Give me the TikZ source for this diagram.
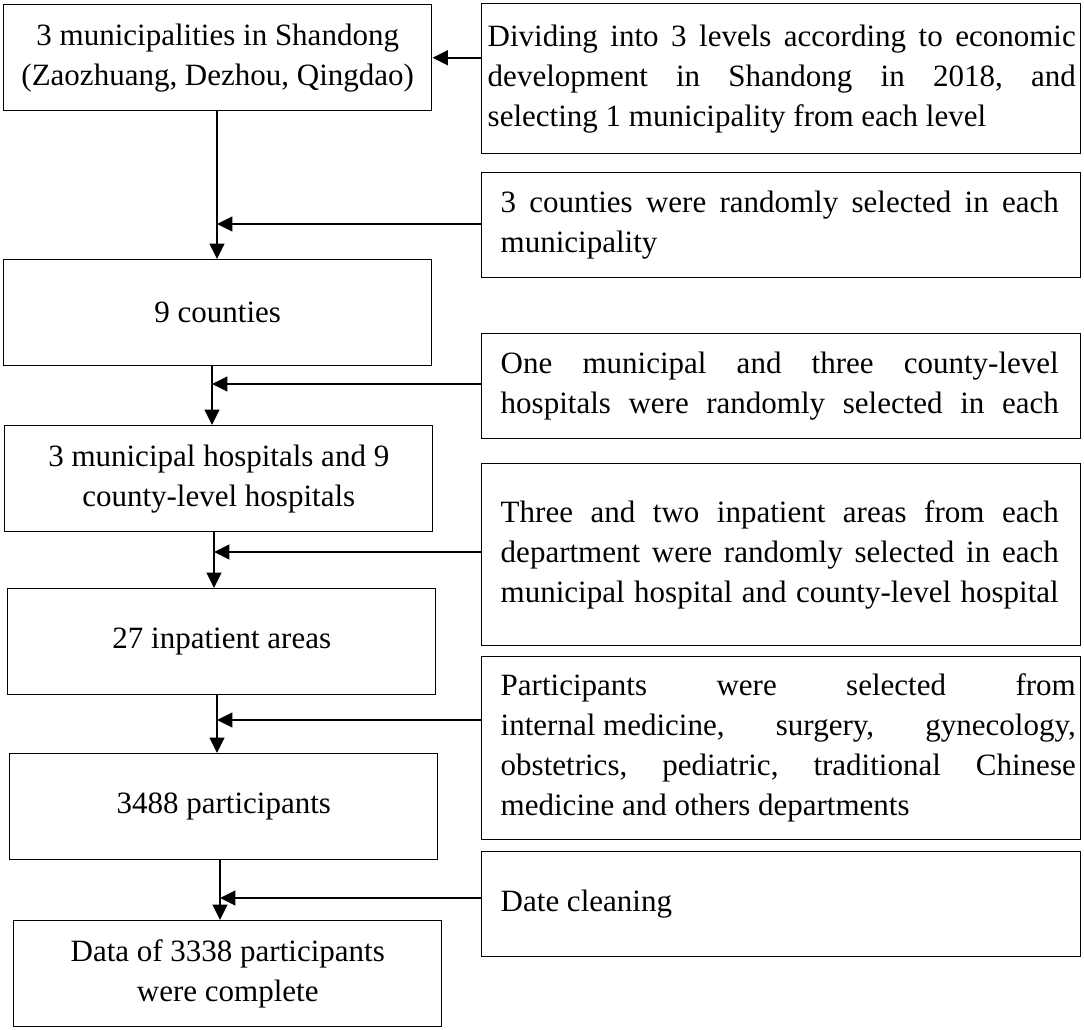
\documentclass[tikz,border=0pt]{standalone}
\usepackage{fontspec}
\setmainfont{Liberation Serif}
\usetikzlibrary{arrows.meta}
\frenchspacing
\newcommand{\jl}[1]{\makebox[\linewidth][s]{#1}}
\newcommand{\rt}[3]{\makebox[449.25pt][l]{\hspace*{#1}\parbox[c]{#2}{#3}}}
\begin{document}
\begin{tikzpicture}[x=0.75pt,y=-0.75pt,
  every node/.style={font=\fontsize{23.25pt}{30pt}\selectfont},
  lbox/.style={draw, line width=1.1pt, inner sep=0pt, anchor=north west,
    minimum width=321pt, minimum height=79.5pt, align=center},
  rbox/.style={draw, line width=1.1pt, inner sep=0pt, anchor=north west,
    minimum width=449.25pt},
  arr/.style={line width=1.7pt, -{Triangle[length=11.5pt,width=11pt]}},
]
\useasboundingbox (0,0) rectangle (1084,1029);

% left column
\node[lbox] (b1) at (3,4) {3 municipalities in Shandong\\(Zaozhuang, Dezhou, Qingdao)};
\node[lbox] (b2) at (3,259) {9 counties};
\node[lbox] (b3) at (4,425) {3 municipal hospitals and 9\\county-level hospitals};
\node[lbox] (b4) at (7,588) {27 inpatient areas};
\node[lbox] (b5) at (9,753) {3488 participants};
\node[lbox] (b6) at (13,920) {Data of 3338 participants\\were complete};

% right column
\node[rbox, minimum height=112.5pt] (r1) at (481,3) {\rt{4.5pt}{441pt}{%
  \jl{Dividing into 3 levels according to economic}\\
  \jl{development in Shandong in 2018, and}\\
  selecting 1 municipality from each level}};
\node[rbox, minimum height=78.75pt] (r2) at (481,172) {\rt{14.25pt}{418.5pt}{%
  \jl{3 counties were randomly selected in each}\\
  municipality}};
\node[rbox, minimum height=78.75pt] (r3) at (481,333) {\rt{14.25pt}{418.5pt}{%
  \jl{One municipal and three county-level}\\
  \jl{hospitals were randomly selected in each}}};
\node[rbox, minimum height=136.5pt] (r4) at (481,463) {\rt{14.25pt}{418.5pt}{%
  \jl{Three and two inpatient areas from each}\\
  \jl{department were randomly selected in each}\\
  \jl{municipal hospital and county-level hospital}}};
\node[rbox, minimum height=137.25pt] (r5) at (481,656) {\rt{14.25pt}{431.25pt}{%
  \jl{Participants were selected from}\\
  \jl{\mbox{internal medicine,} surgery, gynecology,}\\
  \jl{obstetrics, pediatric, traditional Chinese}\\
  medicine and others departments}};
\node[rbox, minimum height=78.75pt] (r6) at (481,851) {\rt{14.25pt}{431.25pt}{Date cleaning}};

% junctions on the vertical connectors
\coordinate (j1) at (217,224);
\coordinate (j2) at (212,384);
\coordinate (j3) at (214,552);
\coordinate (j4) at (217,720);
\coordinate (j5) at (220,898);

% connectors
\draw[arr] (r1.west |- b1.east) -- (b1.east);
\draw[arr] (b1.south -| j1) -- (b2.north -| j1);
\draw[arr] (r2.west |- j1) -- (j1);
\draw[arr] (b2.south -| j2) -- (b3.north -| j2);
\draw[arr] (r3.west |- j2) -- (j2);
\draw[arr] (b3.south -| j3) -- (b4.north -| j3);
\draw[arr] (r4.west |- j3) -- (j3);
\draw[arr] (b4.south -| j4) -- (b5.north -| j4);
\draw[arr] (r5.west |- j4) -- (j4);
\draw[arr] (b5.south -| j5) -- (b6.north -| j5);
\draw[arr] (r6.west |- j5) -- (j5);
\end{tikzpicture}
\end{document}
